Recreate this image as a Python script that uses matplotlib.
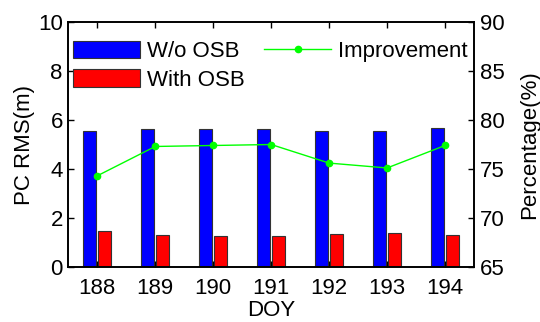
import matplotlib
matplotlib.use("Agg")
import matplotlib.pyplot as plt
import numpy as np
from matplotlib.patches import Patch
from matplotlib.lines import Line2D

plt.rcParams["font.family"] = ["Liberation Sans", "DejaVu Sans"]

# values
doy = [188, 189, 190, 191, 192, 193, 194]
rms_without_osb = [5.55, 5.64, 5.64, 5.63, 5.57, 5.57, 5.68]
rms_with_osb = [1.45, 1.30, 1.27, 1.27, 1.35, 1.39, 1.30]
improvement_pct = [74.3, 77.3, 77.4, 77.5, 75.6, 75.1, 77.4]

FS = 16
BLUE = "#0000ff"
RED = "#ff0000"
GREEN = "#00ff00"

fig = plt.figure(figsize=(5.4, 3.22), dpi=100)
ax = fig.add_axes([0.1265, 0.1717, 0.7513, 0.7590])
x = np.array(doy, dtype=float)
width = 0.23
offset = 0.13

ax.bar(x - offset, rms_without_osb, width, color=BLUE, edgecolor="#333333", linewidth=0.8)
ax.bar(x + offset, rms_with_osb, width, color=RED, edgecolor="#333333", linewidth=0.8)
ax.set_xlim(187.5, 194.5)
ax.set_ylim(0, 10)
ax.set_xticks(doy)
ax.set_yticks([0, 2, 4, 6, 8, 10])
ax.tick_params(direction="in", top=True, right=False, length=4, width=1,
               labelsize=FS, pad=4)
ax.tick_params(axis="x", pad=8)
ax.set_xlabel("DOY", fontsize=FS, labelpad=1)
ax.set_ylabel("PC RMS(m)", fontsize=FS, labelpad=2)
for spine in ax.spines.values():
    spine.set_linewidth(1.2)

ax2 = ax.twinx()
ax2.plot(x, improvement_pct, color=GREEN, linewidth=1.0, marker="o",
         markersize=4.5)
ax2.set_ylim(65, 90)
ax2.set_yticks([65, 70, 75, 80, 85, 90])
ax2.tick_params(direction="in", length=4, width=1, labelsize=FS, pad=4)
ax2.set_ylabel("Percentage(%)", fontsize=FS, labelpad=11)
for spine in ax2.spines.values():
    spine.set_linewidth(1.2)

handles = [
    Patch(facecolor=BLUE, edgecolor="#333333", linewidth=0.8, label="W/o OSB"),
    Patch(facecolor=RED, edgecolor="#333333", linewidth=0.8, label="With OSB"),
    Line2D([], [], color=GREEN, linewidth=1.0, marker="o", markersize=4.5,
           label="Improvement"),
]
ax2.legend(handles=handles, ncol=2, loc="upper left", frameon=False,
           bbox_to_anchor=(0.012, 0.925), borderaxespad=0, borderpad=0,
           fontsize=FS, handlelength=3.0, handleheight=0.85,
           handletextpad=0.3, labelspacing=0.32, columnspacing=0.9)

fig.savefig("out.png", dpi=100)
